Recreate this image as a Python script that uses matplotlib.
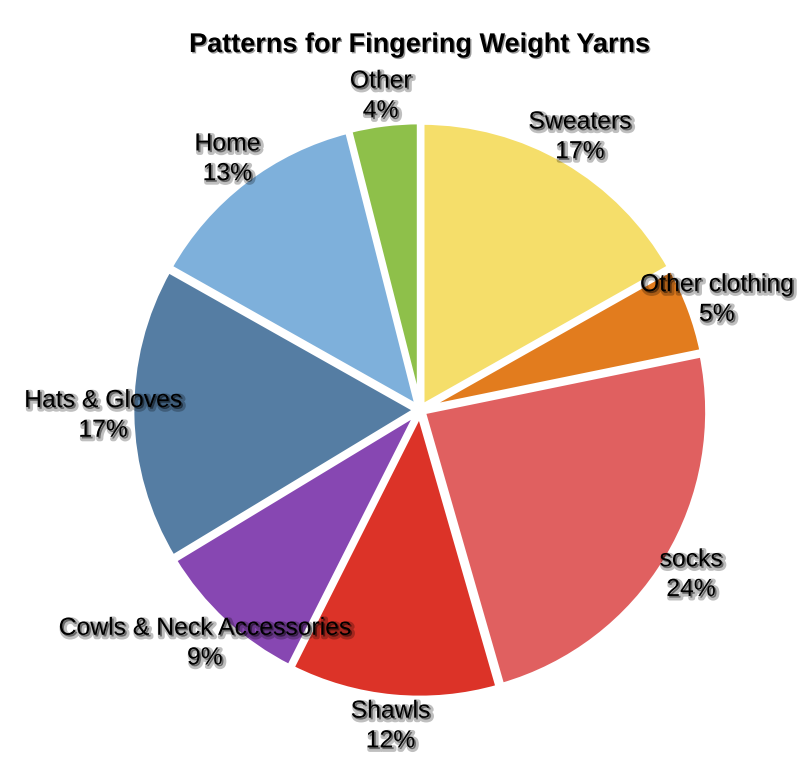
import matplotlib.pyplot as plt
import matplotlib.patheffects as pe
import numpy as np

categories = ["Sweaters", "Other clothing", "socks", "Shawls",
              "Cowls & Neck Accessories", "Hats & Gloves", "Home", "Other"]
values = [17, 5, 24, 12, 9, 17, 13, 4]
colors = ["#F5DE6A", "#E27C1E", "#E06060", "#DC3328",
          "#8747B2", "#557DA3", "#7EB0DB", "#8EC04A"]

W, H = 809, 769
cx, cy, R = 420, 410, 285

fig = plt.figure(figsize=(W / 100, H / 100), dpi=100)
ax = fig.add_axes([0, 0, 1, 1])

wedges, texts = ax.pie(values, colors=colors, startangle=90, counterclock=False,
                       explode=[0.012] * len(values),
                       wedgeprops=dict(edgecolor="white", linewidth=4),
                       labels=["{}\n{}%".format(c, v) for c, v in zip(categories, values)],
                       labeldistance=1.1,
                       textprops=dict(fontsize=17.8, family=["Liberation Sans", "DejaVu Sans"],
                                      linespacing=1.3))

# soft dark drop shadow behind the labels
shadow = [pe.SimpleLineShadow(offset=(1.5, -1.5), shadow_color="k", alpha=0.25, linewidth=3.5),
          pe.SimplePatchShadow(offset=(1.2, -1.2), shadow_rgbFace="k", alpha=0.45),
          pe.Normal()]
for t in texts:
    t.set_ha("center")
    t.set_va("center")
    t.set_path_effects(shadow)

ax.set_aspect("auto")
ax.set_xlim(-cx / R, (W - cx) / R)
ax.set_ylim(-(H - cy) / R, cy / R)
ax.axis("off")

fig.text(cx / W, 1 - 45 / H, "Patterns for Fingering Weight Yarns", ha="center", va="center",
         fontsize=19.5, fontweight="bold", family=["Liberation Sans", "DejaVu Sans"],
         path_effects=[pe.SimplePatchShadow(offset=(1, -1), shadow_rgbFace="k", alpha=0.4),
                       pe.Normal()])

fig.savefig("out.png", dpi=100)
